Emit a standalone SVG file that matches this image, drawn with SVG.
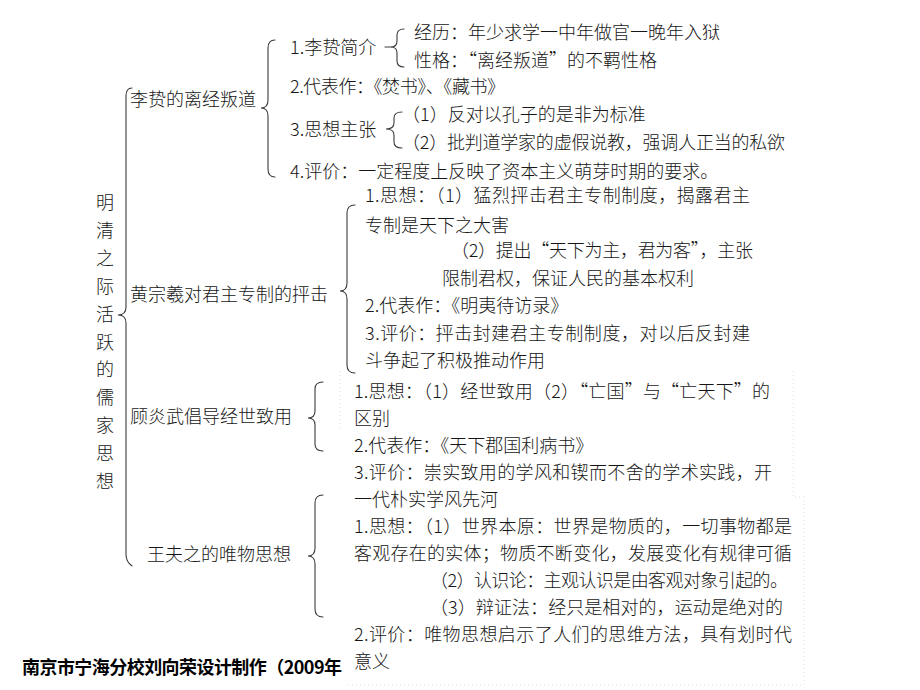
<svg xmlns="http://www.w3.org/2000/svg" width="920" height="690" viewBox="0 0 920 690">
<style>
  text { font-family: "Noto Sans CJK SC", "Noto Sans", "Liberation Sans", sans-serif; font-size: 18px; font-weight: 300; fill: #161616; }
  .title { text-anchor: middle; }
  .foot { font-weight: bold; fill: #000; font-size: 18px; }
  .br { fill: none; stroke: #3a3a3a; stroke-width: 1.1; stroke-linecap: round; }
  .box { fill: none; stroke: #d6e6d6; stroke-width: 1; stroke-dasharray: 1 3; }
</style>
<rect width="920" height="690" fill="#ffffff"/>

<g id="textbox-borders">
  <path class="box" d="M340,371 L340,430"/>
  <path class="box" d="M793,371 L793,497 L804,497 L804,685 L347,685"/>
</g>

<g id="connectors">
  <path class="br" d="M132,88 Q126,88 126,96 L126,307 Q126,315 118,315 Q126,315 126,323 L126,554 Q126,562 132,566"/>
  <path class="br" d="M275,40 Q268,40 268,48 L268,100 Q268,108 261,108 Q268,108 268,116 L268,169 Q268,177 275,177"/>
  <path class="br" d="M385,47 L391,47"/>
  <path class="br" d="M404,29 Q397,29 397,35 L397,41 Q397,47 391,47 Q397,47 397,53 L397,61 Q397,67 404,67"/>
  <path class="br" d="M402,112 Q394,112 394,118 L394,123 Q394,129 386,129 Q394,129 394,135 L394,142 Q394,148 402,148"/>
  <path class="br" d="M355,205 Q347,205 347,213 L347,283 Q347,291 340,291 Q347,291 347,299 L347,365 Q347,373 355,373"/>
  <path class="br" d="M323,382 Q315,382 315,389 L315,411 Q315,418 308,418 Q315,418 315,425 L315,444 Q315,451 323,451"/>
  <path class="br" d="M323,495 Q315,495 315,503 L315,548 Q315,556 308,556 Q315,556 315,564 L315,609 Q315,617 323,617"/>
</g>

<g id="root">
  <text class="title" x="105" y="209">明</text>
  <text class="title" x="105" y="237">清</text>
  <text class="title" x="105" y="265">之</text>
  <text class="title" x="105" y="293">际</text>
  <text class="title" x="105" y="321">活</text>
  <text class="title" x="105" y="349">跃</text>
  <text class="title" x="105" y="376">的</text>
  <text class="title" x="105" y="404">儒</text>
  <text class="title" x="105" y="432">家</text>
  <text class="title" x="105" y="460">思</text>
  <text class="title" x="105" y="488">想</text>
</g>

<g id="lizhi">
  <text x="130" y="106">李贽的离经叛道</text>
</g>
<g id="lizhi-items">
  <text x="290" y="54">1.李贽简介</text>
  <text x="414" y="39">经历：年少求学一中年做官一晚年入狱</text>
  <text x="414" y="67">性格：“离经叛道”的不羁性格</text>
  <text x="290" y="93" textLength="215" lengthAdjust="spacing">2.代表作：《焚书》、《藏书》</text>
  <text x="290" y="136">3.思想主张</text>
  <text x="402" y="121">（1）反对以孔子的是非为标准</text>
  <text x="402" y="149" textLength="383" lengthAdjust="spacing">（2）批判道学家的虚假说教，强调人正当的私欲</text>
  <text x="290" y="178">4.评价：一定程度上反映了资本主义萌芽时期的要求。</text>
</g>

<g id="huangzongxi">
  <text x="130" y="301">黄宗羲对君主专制的抨击</text>
</g>
<g id="huangzongxi-items">
  <text x="365" y="202" textLength="385" lengthAdjust="spacing">1.思想：（1）猛烈抨击君主专制制度，揭露君主</text>
  <text x="365" y="232">专制是天下之大害</text>
  <text x="451" y="257" textLength="302" lengthAdjust="spacing">（2）提出“天下为主，君为客”，主张</text>
  <text x="442" y="285">限制君权，保证人民的基本权利</text>
  <text x="365" y="312">2.代表作：《明夷待访录》</text>
  <text x="365" y="340" textLength="385" lengthAdjust="spacing">3.评价：抨击封建君主专制制度，对以后反封建</text>
  <text x="365" y="367">斗争起了积极推动作用</text>
</g>

<g id="guyanwu">
  <text x="130" y="423">顾炎武倡导经世致用</text>
</g>
<g id="guyanwu-items">
  <text x="354" y="398" textLength="416" lengthAdjust="spacing">1.思想：（1）经世致用（2）“亡国”与“亡天下”的</text>
  <text x="354" y="425">区别</text>
  <text x="354" y="452">2.代表作：《天下郡国利病书》</text>
  <text x="354" y="479" textLength="418" lengthAdjust="spacing">3.评价：崇实致用的学风和锲而不舍的学术实践，开</text>
  <text x="354" y="506">一代朴实学风先河</text>
</g>

<g id="wangfuzhi">
  <text x="147" y="561">王夫之的唯物思想</text>
</g>
<g id="wangfuzhi-items">
  <text x="354" y="533" textLength="438" lengthAdjust="spacing">1.思想：（1）世界本原：世界是物质的，一切事物都是</text>
  <text x="354" y="560" textLength="438" lengthAdjust="spacing">客观存在的实体；物质不断变化，发展变化有规律可循</text>
  <text x="430" y="587" textLength="358" lengthAdjust="spacing">（2）认识论：主观认识是由客观对象引起的。</text>
  <text x="430" y="614" textLength="353" lengthAdjust="spacing">（3）辩证法：经只是相对的，运动是绝对的</text>
  <text x="354" y="641" textLength="438" lengthAdjust="spacing">2.评价：唯物思想启示了人们的思维方法，具有划时代</text>
  <text x="354" y="668">意义</text>
</g>

<g id="footer">
  <text class="foot" x="22" y="674" textLength="320" lengthAdjust="spacing">南京市宁海分校刘向荣设计制作（2009年</text>
</g>
</svg>
